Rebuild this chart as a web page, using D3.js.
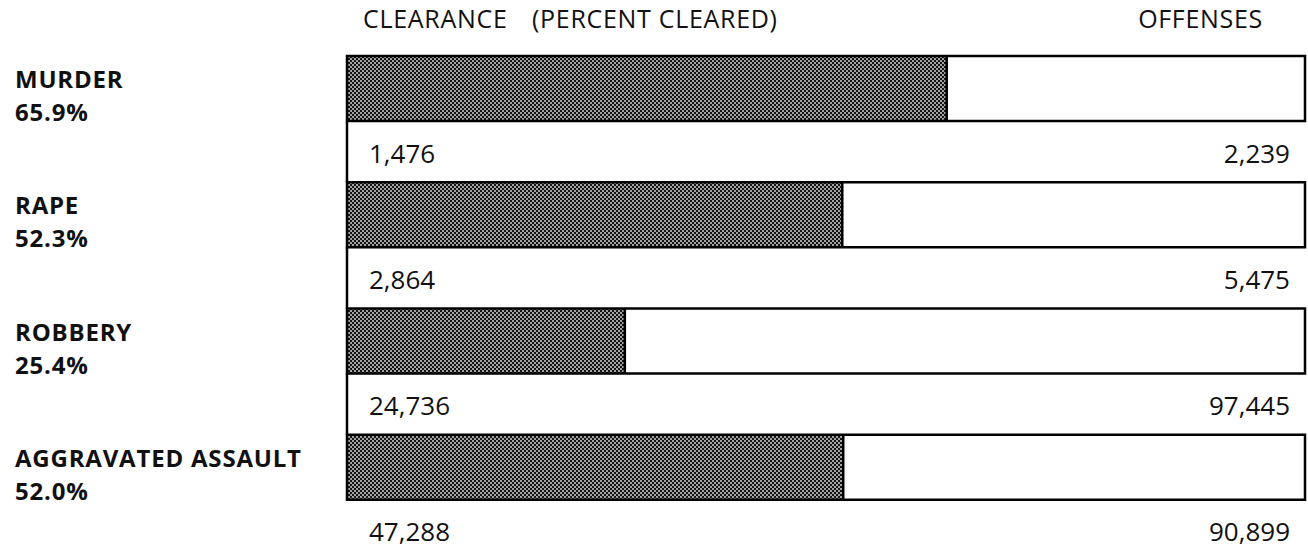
<!DOCTYPE html>
<html>
<head>
<meta charset="utf-8">
<script src="https://cdn.jsdelivr.net/npm/d3@7"></script>
<style>
  html, body { margin: 0; padding: 0; background: #fff; }
  svg { display: block; font-family: "Open Sans", sans-serif; }
</style>
</head>
<body>
<script>
const categories = ['MURDER', 'RAPE', 'ROBBERY', 'AGGRAVATED ASSAULT'];
const clearedPct = [65.9, 52.3, 25.4, 52.0];
const cleared = [1476, 2864, 24736, 47288];
const offenses = [2239, 5475, 97445, 90899];
// bar lengths as they are drawn in the reference (they don't follow the labels exactly)
const barPct = [62.6, 51.7, 29.0, 51.8];

const rows = categories.map((name, i) => ({
  name, pct: clearedPct[i], cleared: cleared[i], offenses: offenses[i], bar: barPct[i], i
}));

const width = 1308, height = 548;
const svg = d3.select('body').append('svg')
  .attr('width', width)
  .attr('height', height);

// halftone screen for the cleared part
const pat = svg.append('defs').append('pattern')
  .attr('id', 'halftone')
  .attr('patternUnits', 'userSpaceOnUse')
  .attr('width', 4).attr('height', 4);
pat.append('rect').attr('width', 4).attr('height', 4).attr('fill', '#151515');
pat.append('rect').attr('width', 2).attr('height', 2).attr('fill', '#a2a2a2');
pat.append('rect').attr('x', 2).attr('y', 2).attr('width', 2).attr('height', 2).attr('fill', '#a2a2a2');

const x = d3.scaleLinear().domain([0, 100]).range([347, 1305]);
const y = d3.scaleBand().domain(categories).range([56, 561]);
const barH = 65;
const fmt = d3.format(',');

// headers
const head = svg.append('g').attr('font-size', 25).attr('fill', '#111')
  .attr('letter-spacing', 0.7);
head.append('text').attr('x', 363).attr('y', 28).text('CLEARANCE');
head.append('text').attr('x', 532).attr('y', 28).text('(PERCENT CLEARED)');
head.append('text').attr('x', 1263).attr('y', 28).attr('text-anchor', 'end').text('OFFENSES');

const g = svg.selectAll('g.row')
  .data(rows)
  .join('g')
  .attr('class', 'row');

// left side labels
const label = g.append('g')
  .attr('font-size', 24).attr('font-weight', 700).attr('fill', '#111')
  .attr('letter-spacing', 0.8);
label.append('text')
  .attr('x', 15)
  .attr('y', d => y(d.name) + 32)
  .text(d => d.name);
label.append('text')
  .attr('x', 15)
  .attr('y', d => y(d.name) + 65)
  .text(d => d.pct.toFixed(1) + '%');

// offenses box and cleared part
g.append('rect')
  .attr('x', x(0))
  .attr('y', d => y(d.name))
  .attr('width', x(100) - x(0))
  .attr('height', barH)
  .attr('fill', '#fff');
g.append('rect')
  .attr('x', x(0))
  .attr('y', d => y(d.name))
  .attr('width', d => x(d.bar) - x(0))
  .attr('height', barH)
  .attr('fill', 'url(#halftone)');
g.append('line')
  .attr('x1', d => x(d.bar)).attr('x2', d => x(d.bar))
  .attr('y1', d => y(d.name)).attr('y2', d => y(d.name) + barH)
  .attr('stroke', '#000').attr('stroke-width', 2.5);
g.append('rect')
  .attr('x', x(0))
  .attr('y', d => y(d.name))
  .attr('width', x(100) - x(0))
  .attr('height', barH)
  .attr('fill', 'none')
  .attr('stroke', '#000')
  .attr('stroke-width', 2.5);

// left rule between boxes
g.filter(d => d.i < categories.length - 1)
  .append('line')
  .attr('x1', x(0)).attr('x2', x(0))
  .attr('y1', d => y(d.name) + barH)
  .attr('y2', d => y(d.name) + y.step())
  .attr('stroke', '#000').attr('stroke-width', 2.5);

// numbers
const numY = d => y(d.name) + barH + (y.step() - barH) / 2 + 11;
g.append('text')
  .attr('x', x(0) + 22)
  .attr('y', numY)
  .attr('font-size', 26).attr('font-weight', 500).attr('fill', '#111')
  .text(d => fmt(d.cleared));
g.append('text')
  .attr('x', 1290)
  .attr('y', numY)
  .attr('text-anchor', 'end')
  .attr('font-size', 26).attr('font-weight', 500).attr('fill', '#111')
  .text(d => fmt(d.offenses));
</script>
</body>
</html>
